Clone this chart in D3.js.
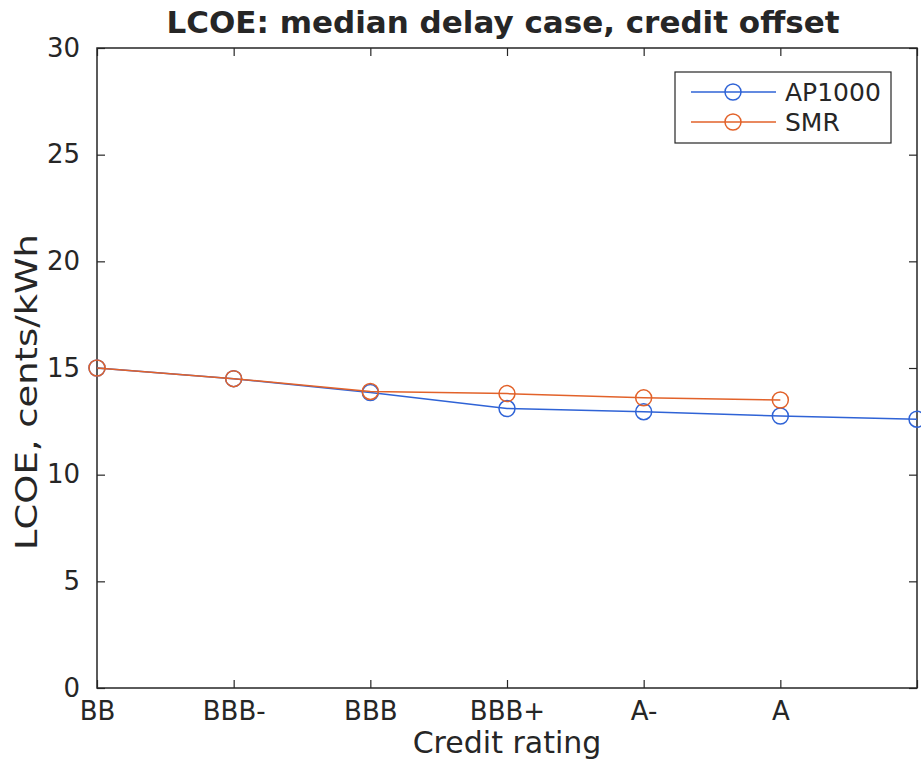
<!DOCTYPE html>
<html>
<head>
<meta charset="utf-8">
<script src="https://cdn.jsdelivr.net/npm/d3@7"></script>
<style>
  body { margin: 0; background: #fff; }
  text { font-family: "DejaVu Sans", sans-serif; fill: #262626; }
</style>
</head>
<body>
<script>
// data
var ratings = ['BB', 'BBB-', 'BBB', 'BBB+', 'A-', 'A', ''];
var ap1000 = [15.0, 14.5, 13.85, 13.1, 12.95, 12.75, 12.6];
var smr = [15.0, 14.5, 13.9, 13.8, 13.6, 13.5];
var yTicks = [0, 5, 10, 15, 20, 25, 30];

var W = 921, H = 765;
// plot box (note: "top" is taken by window.top, so use prefixed names)
var pLeft = 97, pRight = 917, pTop = 48, pBottom = 688;

var svg = d3.select('body').append('svg')
    .attr('width', W)
    .attr('height', H);

var x = d3.scalePoint().domain(d3.range(ratings.length)).range([pLeft, pRight]);
var y = d3.scaleLinear().domain([0, 30]).range([pBottom, pTop]);

//axes, ticks pointing inward like matlab
var tick = 8;
svg.append('g')
    .attr('transform', 'translate(0,' + pBottom + ')')
    .call(d3.axisBottom(x).tickSizeInner(-tick).tickSizeOuter(0).tickPadding(14)
        .tickFormat((d) => ratings[d]))
    .call((g) => g.select('.domain').remove());
svg.append('g')
    .attr('transform', 'translate(0,' + pTop + ')')
    .call(d3.axisTop(x).tickSizeInner(-tick).tickSizeOuter(0).tickFormat(''))
    .call((g) => g.select('.domain').remove());
svg.append('g')
    .attr('transform', 'translate(' + pLeft + ',0)')
    .call(d3.axisLeft(y).tickValues(yTicks).tickSizeInner(-tick).tickSizeOuter(0).tickPadding(17))
    .call((g) => g.select('.domain').remove());
svg.append('g')
    .attr('transform', 'translate(' + pRight + ',0)')
    .call(d3.axisRight(y).tickValues(yTicks).tickSizeInner(-tick).tickSizeOuter(0).tickFormat(''))
    .call((g) => g.select('.domain').remove());

svg.selectAll('.tick line').attr('stroke', '#262626').attr('stroke-width', 1.2);
svg.selectAll('.tick text')
    .style('font-family', '"DejaVu Sans", sans-serif')
    .style('font-size', '26px')
    .attr('fill', '#262626');

svg.append('rect')
    .attr('x', pLeft).attr('y', pTop)
    .attr('width', pRight - pLeft).attr('height', pBottom - pTop)
    .attr('fill', 'none')
    .attr('stroke', '#262626')
    .attr('stroke-width', 1.5);

var series = [
    {name: 'AP1000', values: ap1000, color: '#2f63d6'},
    {name: 'SMR', values: smr, color: '#e2622a'}
];

var line = d3.line().x((d, i) => x(i)).y((d) => y(d));

series.forEach((s) => {
    svg.append('path')
        .datum(s.values)
        .attr('d', line)
        .attr('fill', 'none')
        .attr('stroke', s.color)
        .attr('stroke-width', 1.5);
    svg.selectAll(null)
        .data(s.values)
        .enter()
        .append('circle')
        .attr('cx', (d, i) => x(i))
        .attr('cy', (d) => y(d))
        .attr('r', 8)
        .attr('fill', 'none')
        .attr('stroke', s.color)
        .attr('stroke-width', 1.5);
});

// title and axis labels
svg.append('text')
    .attr('x', 503).attr('y', 33)
    .attr('text-anchor', 'middle')
    .style('font-size', '31px')
    .style('font-weight', 'bold')
    .text('LCOE: median delay case, credit offset');

svg.append('text')
    .attr('x', 507).attr('y', 753)
    .attr('text-anchor', 'middle')
    .style('font-size', '30px')
    .text('Credit rating');

svg.append('text')
    .attr('transform', 'translate(37,392) rotate(-90)')
    .attr('text-anchor', 'middle')
    .attr('textLength', 316)
    .attr('lengthAdjust', 'spacingAndGlyphs')
    .style('font-size', '30px')
    .text('LCOE, cents/kWh');

// legend
var lg = svg.append('g');
lg.append('rect')
    .attr('x', 675).attr('y', 72)
    .attr('width', 216).attr('height', 71)
    .attr('fill', '#fff')
    .attr('stroke', '#262626')
    .attr('stroke-width', 1.2);
series.forEach((s, i) => {
    var ly = 92 + i * 30;
    lg.append('line')
        .attr('x1', 691).attr('x2', 776)
        .attr('y1', ly).attr('y2', ly)
        .attr('stroke', s.color).attr('stroke-width', 1.5);
    lg.append('circle')
        .attr('cx', 733).attr('cy', ly).attr('r', 8)
        .attr('fill', 'none')
        .attr('stroke', s.color).attr('stroke-width', 1.5);
    lg.append('text')
        .attr('x', 785).attr('y', ly + 9)
        .style('font-size', '25px')
        .text(s.name);
});
</script>
</body>
</html>
